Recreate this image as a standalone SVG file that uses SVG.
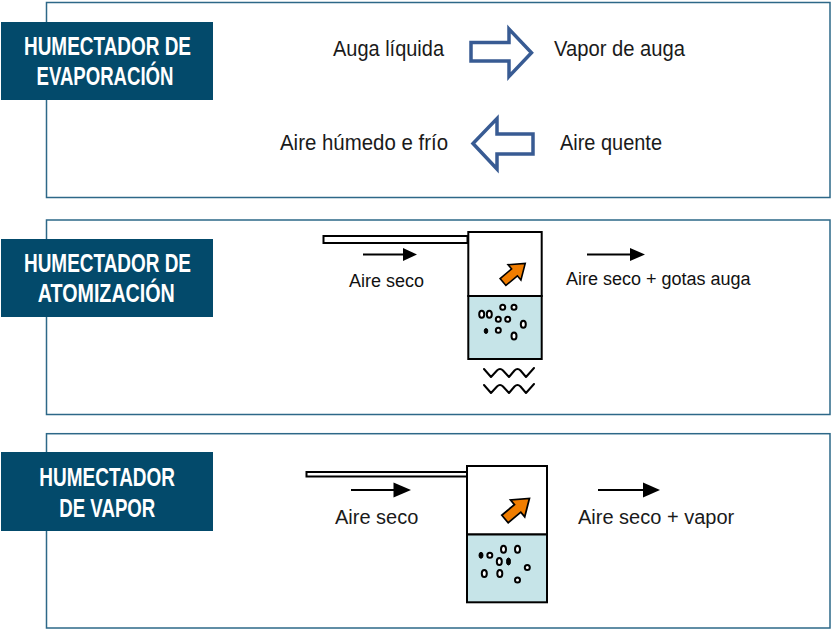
<svg xmlns="http://www.w3.org/2000/svg" xmlns:xlink="http://www.w3.org/1999/xlink" width="831" height="629" viewBox="0 0 831 629">
<defs>
<style>
.frame{fill:#fff;stroke:#2d6888;stroke-width:1.5}
.lbl{fill:#034a6b}
.lbltxt{font-family:"Liberation Sans",Arial,sans-serif;font-weight:bold;font-size:25.5px;fill:#fff;text-anchor:middle}
.t20{font-family:"Liberation Sans",Arial,sans-serif;font-size:20px;fill:#1a1a1a}
.t22{font-family:"Liberation Sans",Arial,sans-serif;font-size:22px;fill:#1a1a1a}
.t18{font-family:"Liberation Sans",Arial,sans-serif;font-size:18px;fill:#111}
.hollow{fill:#fff;stroke:#385b93;stroke-width:3.5;stroke-linejoin:miter}
.box{fill:#fff;stroke:#000;stroke-width:2}
.water{fill:#c6e4e8;stroke:#000;stroke-width:2}
.pipe{fill:#fff;stroke:#000;stroke-width:2}
.bub{fill:#fff;stroke:#000;stroke-width:2}
.bubf{fill:#000;stroke:#000;stroke-width:1}
.ln{stroke:#000;stroke-width:2;fill:none}
.hd{fill:#000}
.wave{fill:none;stroke:#000;stroke-width:2;stroke-linejoin:round;stroke-linecap:round}
</style>
<path id="orange" d="M0,-4.5 L15,-4.5 L15,-10 L29,0 L15,10 L15,4.5 L0,4.5 Z" fill="#f07d00" stroke="#000" stroke-width="1.6" stroke-linejoin="miter"/>
<path id="wv" d="M0,0 L7,8 L13,1.5 Q16,-1.5 19,1.5 L25,8 L30.5,1.5 Q33.5,-1.5 36.5,1.5 L42,8 L50,-1"/>
</defs>

<g id="panel-evaporacion">
<rect class="frame" x="46.5" y="2.5" width="783.5" height="195"/>
<rect class="lbl" x="1" y="22" width="212" height="78"/>
<text class="lbltxt" x="107.5" y="55" textLength="167" lengthAdjust="spacingAndGlyphs">HUMECTADOR DE</text>
<text class="lbltxt" x="105" y="85" textLength="137" lengthAdjust="spacingAndGlyphs">EVAPORACIÓN</text>
</g>

<g id="node-auga-liquida"><text class="t22" x="333" y="56" textLength="111" lengthAdjust="spacingAndGlyphs">Auga líquida</text></g>
<g id="node-vapor-auga"><text class="t22" x="554" y="56" textLength="131" lengthAdjust="spacingAndGlyphs">Vapor de auga</text></g>
<g id="node-aire-humedo"><text class="t22" x="280" y="150" textLength="168" lengthAdjust="spacingAndGlyphs">Aire húmedo e frío</text></g>
<g id="node-aire-quente"><text class="t22" x="560" y="150" textLength="102" lengthAdjust="spacingAndGlyphs">Aire quente</text></g>

<g id="panel-atomizacion">
<rect class="frame" x="46.5" y="220" width="783.5" height="194.5"/>
<rect class="lbl" x="1" y="239" width="212" height="78"/>
<text class="lbltxt" x="107.5" y="272" textLength="167" lengthAdjust="spacingAndGlyphs">HUMECTADOR DE</text>
<text class="lbltxt" x="106.3" y="302" textLength="137" lengthAdjust="spacingAndGlyphs">ATOMIZACIÓN</text>
<text class="t18" x="349" y="287">Aire seco</text>
<text class="t18" x="566" y="285">Aire seco + gotas auga</text>
</g>

<g id="device-atomizacion">
<rect class="pipe" x="323.5" y="236" width="144" height="7"/>
<rect class="box" x="468.3" y="232" width="73.4" height="64"/>
<rect class="water" x="468.3" y="296" width="73.4" height="63"/>
<use xlink:href="#orange" href="#orange" transform="translate(503,282) rotate(-40)"/>
<ellipse class="bub" cx="481.7" cy="314.3" rx="2.5" ry="3.5"/>
<ellipse class="bub" cx="489.3" cy="314.3" rx="2.5" ry="3.5"/>
<ellipse class="bub" cx="502.7" cy="307.3" rx="2.5" ry="2.5"/>
<ellipse class="bub" cx="514" cy="307.3" rx="2.5" ry="2.5"/>
<ellipse class="bub" cx="498.3" cy="319.3" rx="2.5" ry="2.5"/>
<ellipse class="bub" cx="507.7" cy="319.3" rx="2.5" ry="2.5"/>
<ellipse class="bub" cx="523.3" cy="324.3" rx="2.5" ry="3.5"/>
<ellipse class="bubf" cx="486" cy="331" rx="1.8" ry="2.5"/>
<ellipse class="bub" cx="498.3" cy="330.3" rx="2.5" ry="2.5"/>
<ellipse class="bub" cx="514" cy="336" rx="2.5" ry="3.5"/>
<use class="wave" xlink:href="#wv" href="#wv" transform="translate(484,369)"/>
<use class="wave" xlink:href="#wv" href="#wv" transform="translate(484,385)"/>
</g>

<g id="panel-vapor">
<rect class="frame" x="46.5" y="433.7" width="783.5" height="194.3"/>
<rect class="lbl" x="1" y="452" width="212" height="79"/>
<text class="lbltxt" x="107.2" y="486" textLength="135.7" lengthAdjust="spacingAndGlyphs">HUMECTADOR</text>
<text class="lbltxt" x="107.3" y="516.7" textLength="96" lengthAdjust="spacingAndGlyphs">DE VAPOR</text>
<text class="t20" x="335" y="524">Aire seco</text>
<text class="t20" x="578" y="524">Aire seco + vapor</text>
</g>

<g id="device-vapor">
<rect class="pipe" x="306.5" y="472" width="160.5" height="4.5"/>
<rect class="box" x="467" y="466" width="80" height="68.5"/>
<rect class="water" x="467" y="534.5" width="80" height="67.8"/>
<use xlink:href="#orange" href="#orange" transform="translate(505,519) rotate(-40) scale(1.1)"/>
<ellipse class="bubf" cx="481" cy="555.3" rx="2" ry="3"/>
<ellipse class="bub" cx="489.8" cy="555.3" rx="2.5" ry="2.5"/>
<ellipse class="bub" cx="503.5" cy="549.3" rx="2.5" ry="3.5"/>
<ellipse class="bub" cx="517.5" cy="549.3" rx="2.5" ry="3.5"/>
<ellipse class="bub" cx="499.3" cy="561.5" rx="2.5" ry="3.5"/>
<ellipse class="bubf" cx="508.5" cy="561.5" rx="2" ry="3.5"/>
<ellipse class="bub" cx="527.3" cy="567.5" rx="2.5" ry="2.5"/>
<ellipse class="bub" cx="484.3" cy="573.5" rx="2.5" ry="3.5"/>
<ellipse class="bub" cx="499.8" cy="573.5" rx="2.5" ry="3.5"/>
<ellipse class="bub" cx="517.5" cy="580" rx="2.5" ry="2.5"/>
</g>

<g id="connectors">
<path class="hollow" d="M471,42.5 L509,42.5 L509,29 L531.5,52.7 L509,76.5 L509,61 L471,61 Z"/>
<path class="hollow" d="M533,134 L497,134 L497,118.5 L473,143.5 L497,169 L497,154 L533,154 Z"/>
<line class="ln" x1="363" y1="254.5" x2="405" y2="254.5"/>
<polygon class="hd" points="403,248 417,254.5 403,261"/>
<line class="ln" x1="587" y1="254.5" x2="632" y2="254.5"/>
<polygon class="hd" points="630,248 645,254.5 630,261"/>
<line class="ln" x1="351" y1="490" x2="395" y2="490"/>
<polygon class="hd" points="393.5,482.5 411,490 393.5,497.5"/>
<line class="ln" x1="598" y1="490" x2="645" y2="490"/>
<polygon class="hd" points="643,482.5 660,490 643,497.5"/>
</g>
</svg>
